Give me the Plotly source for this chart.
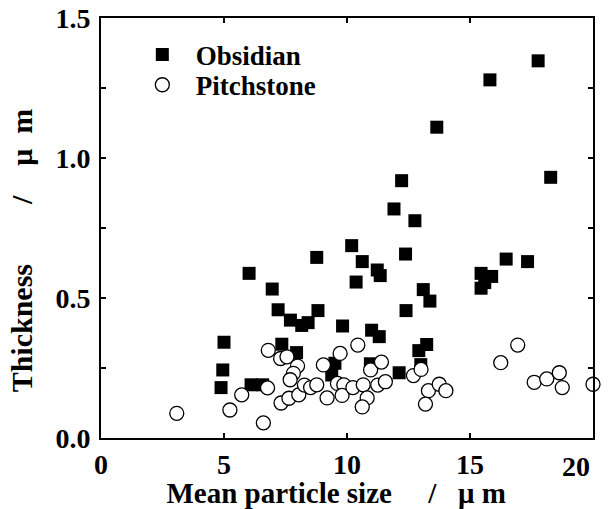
import plotly.graph_objects as go

# Obsidian: mean particle size (µm) vs. hydration-layer thickness (µm)
obsidian_size = [4.88, 4.95, 5.00, 6.02, 6.10, 6.57, 6.96, 7.20, 7.35, 7.70,
                 7.95, 8.16, 8.42, 8.77, 8.82, 9.38, 9.51, 9.82, 10.19, 10.37,
                 10.62, 10.95, 11.00, 11.23, 11.31, 11.35, 11.91, 12.12, 12.22, 12.38,
                 12.40, 12.76, 12.92, 13.00, 13.10, 13.24, 13.37, 13.65, 15.45, 15.45,
                 15.60, 15.88, 15.81, 16.47, 17.34, 17.77, 18.28]
obsidian_thick = [0.180, 0.243, 0.342, 0.588, 0.190, 0.190, 0.532, 0.458, 0.335, 0.421,
                  0.305, 0.402, 0.412, 0.645, 0.455, 0.225, 0.267, 0.400, 0.687, 0.557,
                  0.630, 0.265, 0.385, 0.600, 0.362, 0.580, 0.818, 0.233, 0.919, 0.657,
                  0.455, 0.776, 0.312, 0.262, 0.530, 0.334, 0.489, 1.110, 0.588, 0.535,
                  0.555, 0.577, 1.279, 0.639, 0.630, 1.347, 0.931]

# Pitchstone
pitch_size = [3.08, 5.24, 5.72, 6.60, 6.80, 6.77, 7.30, 7.56, 7.99, 7.82,
              7.69, 7.32, 7.64, 8.04, 8.27, 8.52, 8.77, 9.04, 9.19, 9.72,
              9.61, 9.87, 9.80, 10.24, 10.44, 10.66, 10.82, 10.62, 10.96, 11.40,
              11.25, 11.56, 12.70, 13.01, 13.31, 13.19, 13.75, 14.02, 16.25, 16.94,
              17.61, 18.12, 18.63, 18.75, 20.00]
pitch_thick = [0.088, 0.100, 0.154, 0.054, 0.313, 0.179, 0.284, 0.290, 0.257, 0.231,
               0.208, 0.125, 0.142, 0.154, 0.189, 0.180, 0.190, 0.261, 0.143, 0.302,
               0.195, 0.190, 0.152, 0.180, 0.332, 0.190, 0.143, 0.111, 0.243, 0.271,
               0.189, 0.201, 0.223, 0.245, 0.169, 0.121, 0.192, 0.169, 0.269, 0.332,
               0.199, 0.211, 0.233, 0.180, 0.192]

NB = "\u00a0"
END = "\u200b"  # keeps trailing padding from being trimmed
x_ticks = [0, 5, 10, 15, 20]
x_tick_labels = ["0", "5", "10", "15", "20"]
y_ticks = [0.0, 0.25, 0.5, 0.75, 1.0, 1.25, 1.5]
y_tick_text = ["0.0", "", "0.5", "", "1.0", "", "1.5"]

FONT = "Liberation Serif, Times New Roman, serif"
tick_font = dict(family=FONT, size=28, color="black", weight="bold")

fig = go.Figure()
fig.add_trace(go.Scatter(
    x=obsidian_size, y=obsidian_thick, mode="markers", name=NB * 2 + "Obsidian",
    marker=dict(symbol="square", size=13, color="black", line=dict(width=0)),
    legend="legend",
))
fig.add_trace(go.Scatter(
    x=pitch_size, y=pitch_thick, mode="markers", name=NB * 2 + "Pitchstone",
    marker=dict(symbol="circle", size=14, color="white",
                line=dict(width=1.3, color="black")),
    cliponaxis=False,
    legend="legend2",
))

axis_common = dict(
    showline=True, linecolor="black", linewidth=2, mirror="ticks",
    ticks="inside", ticklen=5, tickwidth=1.5, tickcolor="black",
    showgrid=False, zeroline=False, automargin=False,
    tickfont=tick_font, ticklabeloverflow="allow",
)

# the last x label is right-aligned at its tick so it stays inside the figure
fig.update_xaxes(
    range=[0, 20], tickvals=x_ticks, ticktext=x_tick_labels[:-1] + [""],
    ticklabelstandoff=0,
    title=dict(text="Mean particle size" + NB * 5 + "/" + NB * 3 + "μ" + NB + "m"
               + NB * 3 + END,
               font=dict(family=FONT, size=29, color="black", weight="bold"),
               standoff=8),
    **axis_common,
)
fig.add_annotation(
    x=x_ticks[-1], y=0, xref="x", yref="y", text=x_tick_labels[-1],
    showarrow=False, xanchor="right", yanchor="middle", xshift=-1, yshift=-28,
    font=tick_font,
)
fig.update_yaxes(
    range=[0, 1.5], tickvals=y_ticks, ticktext=y_tick_text,
    ticklabelstandoff=3,
    title=dict(text="Thickness" + NB * 8 + "/" + NB * 4 + "μ" + NB * 2 + "m" + NB * 6 + END,
               font=dict(family=FONT, size=30, color="black", weight="bold"),
               standoff=14),
    **axis_common,
)

legend_common = dict(
    xanchor="left", yanchor="middle",
    bgcolor="rgba(0,0,0,0)", borderwidth=0,
    font=dict(family=FONT, size=27, color="black", weight="bold"),
    itemwidth=30,
)

fig.update_layout(
    width=608, height=509,
    margin=dict(l=101, r=15, t=18, b=71),
    paper_bgcolor="white", plot_bgcolor="white",
    font=dict(family=FONT, color="black"),
    showlegend=True,
    legend=dict(x=0.084, y=0.912, **legend_common),
    legend2=dict(x=0.084, y=0.840, **legend_common),
)

fig.write_html("out.html")
